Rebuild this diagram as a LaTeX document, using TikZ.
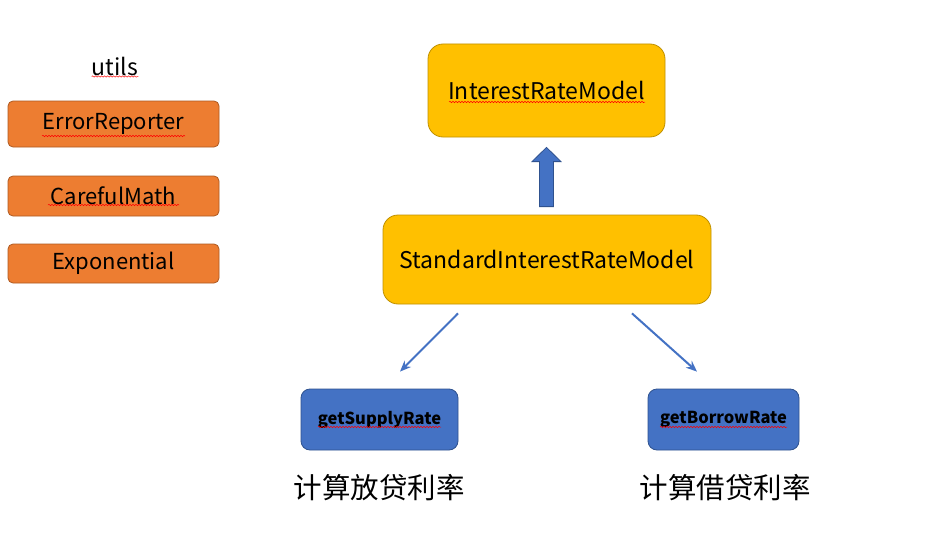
\documentclass[tikz,border=0pt]{standalone}
\usepackage{fontspec}
\setmainfont{Noto Sans CJK SC}
\usetikzlibrary{arrows.meta,decorations.pathmorphing,calc}
\definecolor{orng}{HTML}{ED7D31}
\definecolor{orngb}{HTML}{AE5A21}
\definecolor{gold}{HTML}{FFC000}
\definecolor{goldb}{HTML}{BF9000}
\definecolor{blu}{HTML}{4472C4}
\definecolor{blub}{HTML}{2F528F}
\begin{document}
\begin{tikzpicture}[x=1pt,y=-1pt,
  obox/.style={draw=orngb,fill=orng,line width=0.8pt,rounded corners=5pt,minimum width=211pt,inner sep=0pt,font=\fontsize{22}{25}\selectfont},
  gbox/.style={draw=goldb,fill=gold,line width=0.8pt,rounded corners=15pt,inner sep=0pt,font=\fontsize{23}{26}\selectfont},
  bbox/.style={draw=blub,fill=blu,line width=0.8pt,rounded corners=9pt,minimum height=61pt,inner sep=0pt,font=\bfseries\fontsize{16.5}{19}\selectfont},
  cjk/.style={inner sep=0pt,font=\fontsize{28.5}{32}\selectfont},
  thinarrow/.style={draw=blu,line width=2pt,-{Stealth[length=11pt,width=9pt]}},
  squig/.style={draw=red,line width=0.5pt,decorate,decoration={snake,amplitude=0.7pt,segment length=3pt}}
]
\useasboundingbox[fill=white] (0,0) rectangle (932,535);
\node[inner sep=0pt,font=\fontsize{23}{26}\selectfont] (utils) at (115,66) {utils};
\node[obox,minimum height=46pt] (er) at (113.5,124) {\raisebox{-2pt}{ErrorReporter}};
\node[obox,minimum height=40pt] (cm) at (113.5,196) {\raisebox{-1pt}{CarefulMath}};
\node[obox,minimum height=39pt] (ex) at (113.5,263.5) {\raisebox{-1pt}{Exponential}};
\node[gbox,minimum width=237pt,minimum height=93pt] (irm) at (546.5,90.5) {InterestRateModel};
\node[gbox,minimum width=328pt,minimum height=89pt] (sirm) at (547,259.5) {StandardInterestRateModel};
\node[bbox,minimum width=157pt] (sup) at (379.5,419.5) {getSupplyRate};
\node[bbox,minimum width=151pt] (bor) at (723.5,419.5) {getBorrowRate};
\node[cjk] (supt) at (379,488) {计算放贷利率};
\node[cjk] (bort) at (725,488) {计算借贷利率};
% block arrow
\draw[draw=blub,fill=blu,line width=0.8pt]
  ($(sirm.north)+(-7.5,-8)$) -- ($(sirm.north)+(-7.5,-53)$) -- ($(sirm.north)+(-15,-53)$)
  -- ($(irm.south)+(0,10)$) -- ($(sirm.north)+(14,-53)$) -- ($(sirm.north)+(6.5,-53)$)
  -- ($(sirm.north)+(6.5,-8)$) -- cycle;
% thin arrows
\coordinate (s1) at ($(sirm.south)+(-89,9)$);
\coordinate (e1) at ($(sup.north)+(20.5,-17)$);
\coordinate (s2) at ($(sirm.south)+(85,9)$);
\coordinate (e2) at ($(bor.north)+(-26.5,-17)$);
\draw[thinarrow] (s1) -- (e1);
\draw[thinarrow] (s2) -- (e2);
% spell-check underlines
\draw[squig] ($(utils.south west)+(0,1)$) -- ($(utils.south east)+(0,1)$);
\draw[squig] (42,136) -- (185,136);
\draw[squig] (48,205) -- (179,205);
\draw[squig] (449,102) -- (645,102);
\draw[squig] (318,427) -- (441,427);
\draw[squig] (660,427) -- (787,427);
\end{tikzpicture}
\end{document}
